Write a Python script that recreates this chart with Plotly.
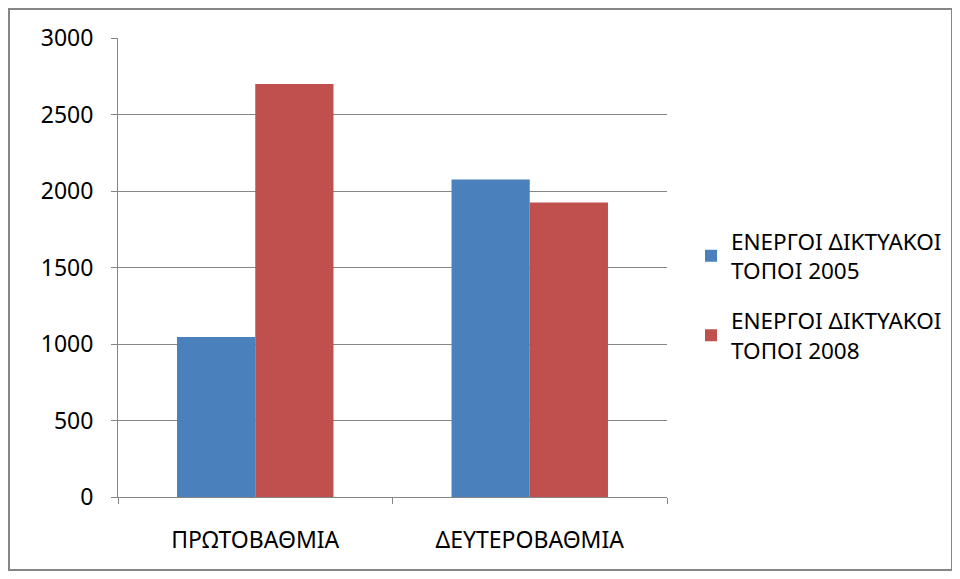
import plotly.graph_objects as go

categories = ["ΠΡΩΤΟΒΑΘΜΙΑ", "ΔΕΥΤΕΡΟΒΑΘΜΙΑ"]
series_names = ["ΕΝΕΡΓΟΙ ΔΙΚΤΥΑΚΟΙ<br>ΤΟΠΟΙ 2005", "ΕΝΕΡΓΟΙ ΔΙΚΤΥΑΚΟΙ<br>ΤΟΠΟΙ 2008"]
values_2005 = [1045, 2075]
values_2008 = [2700, 1925]
colors = ["#4A81BD", "#C0504D"]
y_ticks = [0, 500, 1000, 1500, 2000, 2500, 3000]

W, H = 960, 579
L, R, T, B = 110, 301, 30, 90
pw, ph = W - L - R, H - T - B

font = "Noto Sans"

fig = go.Figure()
for i, (name, vals, c) in enumerate(zip(series_names, [values_2005, values_2008], colors)):
    fig.add_trace(go.Bar(x=categories, y=vals, name=name, legendgroup=f"g{i}",
                         marker=dict(color=c, line=dict(width=0))))

fig.update_layout(
    width=W, height=H,
    margin=dict(l=L, r=R, t=T, b=B),
    paper_bgcolor="white", plot_bgcolor="white",
    barmode="group", bargap=0.43, bargroupgap=0,
    font=dict(family=font, size=22, color="#000000"),
    showlegend=True,
    legend=dict(x=(683 - L) / pw, y=(T + ph - 212) / ph, xanchor="left", yanchor="top",
                font=dict(size=22.5, color="#000000"), tracegroupgap=18,
                itemwidth=30, bgcolor="rgba(0,0,0,0)"),
    shapes=[dict(type="rect", xref="paper", yref="paper",
                 x0=(1 - L) / pw, x1=(944 - L) / pw,
                 y0=(H - B - 562) / ph, y1=(H - B - 1) / ph,
                 line=dict(color="#868686", width=2), fillcolor="rgba(0,0,0,0)",
                 layer="below")],
)
fig.update_yaxes(range=[0, 3000], tickvals=y_ticks, showgrid=True, gridcolor="#868686",
                 gridwidth=1, showline=True, linecolor="#868686", linewidth=1,
                 ticks="outside", ticklen=6, tickcolor="#868686", zeroline=False,
                 tickfont=dict(size=23), ticklabelstandoff=13)
fig.update_xaxes(showline=True, linecolor="#868686", linewidth=1, ticks="outside",
                 tickson="boundaries", ticklen=6, tickcolor="#868686",
                 tickfont=dict(size=23), ticklabelstandoff=22)

fig.write_html("out.html")
